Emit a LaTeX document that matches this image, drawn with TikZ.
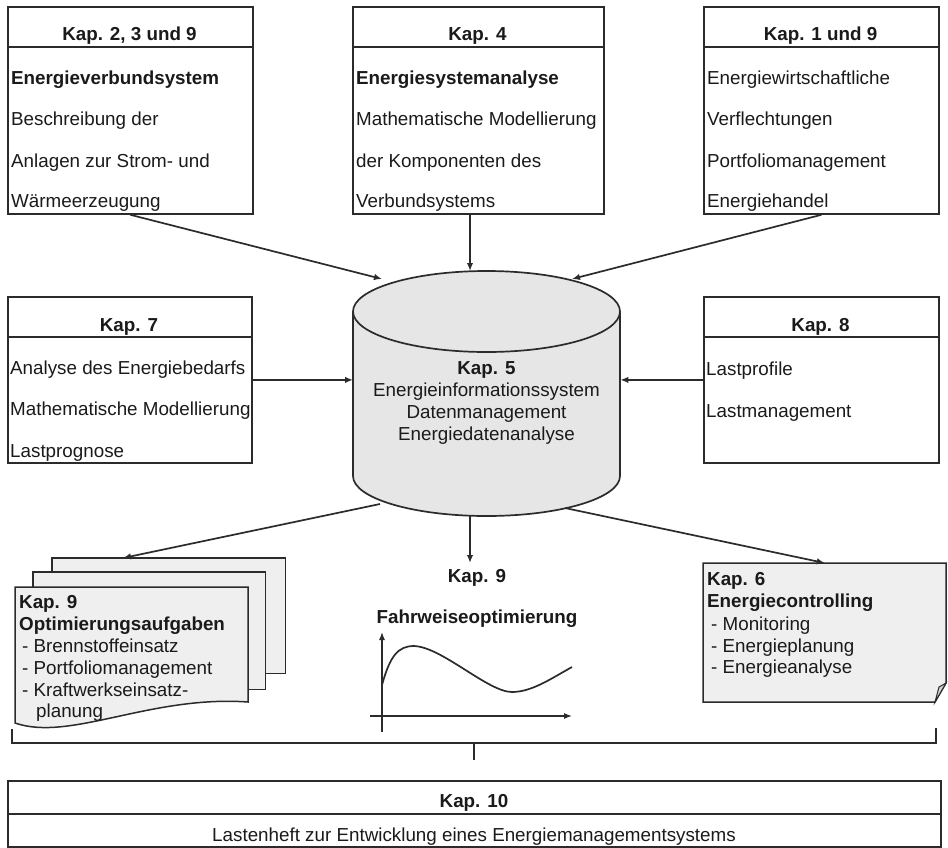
\documentclass[tikz,border=0pt]{standalone}
\usepackage{fontspec}
\setmainfont{Liberation Sans}
\usetikzlibrary{arrows.meta}
\definecolor{linec}{HTML}{2B2B2B}
\definecolor{txtc}{HTML}{1A1A1A}
\definecolor{cylf}{HTML}{E6E6E6}
\definecolor{docf}{HTML}{EFEFEF}
\newcommand\myfs{\fontsize{18.8}{22}\selectfont}
\begin{document}
\begin{tikzpicture}[x=1pt,y=-1pt,
  box/.style={draw=linec, line width=1.8pt, inner sep=0, anchor=north west},
  ghost/.style={inner sep=0, anchor=north west},
  divline/.style={draw=linec, line width=1.3pt},
  txt/.style={anchor=base west, inner sep=0, font=\myfs, text=txtc},
  btxt/.style={txt, font=\myfs\bfseries},
  ctxt/.style={anchor=base, inner sep=0, font=\myfs, text=txtc},
  bctxt/.style={ctxt, font=\myfs\bfseries},
  arr/.style={draw=linec, line width=1.7pt, -{Latex[length=8pt,width=6.5pt]}},
  sheet/.style={draw=linec, line width=1.5pt, fill=docf},
  axisline/.style={draw=linec, line width=1.2pt, -{Latex[length=8pt,width=6pt]}}]
\useasboundingbox (0,0) rectangle (948,847);

% ---------- top boxes ----------
\node[box, minimum width=245pt, minimum height=207pt] (b1) at (7,6) {};
\node[box, minimum width=251pt, minimum height=207pt] (b2) at (352,6) {};
\node[box, minimum width=235pt, minimum height=207pt] (b3) at (703,6) {};
\foreach \b in {b1,b2,b3}{
  \draw[divline] ([yshift=-41pt]\b.north west) -- ([yshift=-41pt]\b.north east);
}
\node[bctxt] (h1) at (129.5,40) {Kap. 2, 3 und 9};
\node[btxt] (t1a) at (11,84) {Energieverbundsystem};
\node[txt] (t1b) at (11,125) {Beschreibung der};
\node[txt] (t1c) at (11,167) {Anlagen zur Strom- und};
\node[txt] (t1d) at (11,207) {Wärmeerzeugung};

\node[bctxt] (h2) at (477.5,40) {Kap. 4};
\node[btxt] (t2a) at (356,84) {Energiesystemanalyse};
\node[txt] (t2b) at (356,125) {Mathematische Modellierung};
\node[txt] (t2c) at (356,167) {der Komponenten des};
\node[txt] (t2d) at (356,207) {Verbundsystems};

\node[bctxt] (h3) at (820.5,40) {Kap. 1 und 9};
\node[txt] (t3a) at (707,84) {Energiewirtschaftliche};
\node[txt] (t3b) at (707,125) {Verflechtungen};
\node[txt] (t3c) at (707,167) {Portfoliomanagement};
\node[txt] (t3d) at (707,207) {Energiehandel};

% ---------- side boxes ----------
\node[box, minimum width=244pt, minimum height=166pt] (b7) at (7,296) {};
\node[box, minimum width=235pt, minimum height=166pt] (b8) at (703,296) {};
\foreach \b in {b7,b8}{
  \draw[divline] ([yshift=-41pt]\b.north west) -- ([yshift=-41pt]\b.north east);
}
\node[bctxt] (h7) at (129,331) {Kap. 7};
\node[txt] (t7a) at (10,374) {Analyse des Energiebedarfs};
\node[txt] (t7b) at (10,415) {Mathematische Modellierung};
\node[txt] (t7c) at (10,457) {Lastprognose};

\node[bctxt] (h8) at (820.5,331) {Kap. 8};
\node[txt] (t8a) at (706,375) {Lastprofile};
\node[txt] (t8b) at (706,417) {Lastmanagement};

% ---------- cylinder ----------
\node[ghost, minimum width=267pt, minimum height=246pt] (db) at (353,271) {};
\fill[cylf] (353,311.5) -- (353,476)
  arc[start angle=180, end angle=360, x radius=133.5pt, y radius=40pt]
  -- (620,311.5)
  arc[start angle=0, end angle=180, x radius=133.5pt, y radius=40.5pt] -- cycle;
\draw[linec, line width=1.7pt] (353,311.5) -- (353,476)
  arc[start angle=180, end angle=360, x radius=133.5pt, y radius=40pt]
  -- (620,311.5);
\draw[linec, line width=1.7pt] (486.5,311.5) ellipse [x radius=133.5pt, y radius=40.5pt];
\node[bctxt] (c5a) at (486.5,374) {Kap. 5};
\node[ctxt] (c5b) at (486.5,396) {Energieinformationssystem};
\node[ctxt] (c5c) at (486.5,418) {Datenmanagement};
\node[ctxt] (c5d) at (486.5,440) {Energiedatenanalyse};

% ---------- arrows into cylinder ----------
\coordinate (c1) at (382,279);
\coordinate (c2) at (470,271);
\coordinate (c3) at (572,279);
\draw[arr] (b1.south) -- (c1);
\draw[arr] (b2.south -| c2) -- (c2);
\draw[arr] (b3.south) -- (c3);
\draw[arr] (b7.east) -- (b7.east -| db.west);
\draw[arr] (b8.west) -- (b8.west -| db.east);

% ---------- left document stack ----------
\node[ghost, minimum width=233pt, minimum height=115pt] (s3) at (52,558) {};
\draw[sheet] (s3.north west) rectangle (s3.south east);
\node[ghost, minimum width=232pt, minimum height=117pt] (s2) at (33,572) {};
\draw[sheet] (s2.north west) rectangle (s2.south east);
\draw[sheet] (15,587) -- (248,587) -- (248,702)
  .. controls (150,695) and (70,742) .. (15,723) -- cycle;
\node[btxt] (l1) at (19,608) {Kap. 9};
\node[btxt] (l2) at (19,630) {Optimierungsaufgaben};
\node[txt] (l3) at (22,652) {- Brennstoffeinsatz};
\node[txt] (l4) at (22,674) {- Portfoliomanagement};
\node[txt] (l5) at (22,696) {- Kraftwerkseinsatz-};
\node[txt] (l6) at (36,717) {planung};

% ---------- middle chart ----------
\node[bctxt] (k9) at (477,582) {Kap. 9};
\node[bctxt] (fw) at (477,623) {Fahrweiseoptimierung};
\coordinate (ya) at (382,732);
\coordinate (yb) at (382,632);
\coordinate (xa) at (370,716);
\coordinate (xb) at (572,716);
\draw[axisline] (ya) -- (yb);
\draw[axisline] (xa) -- (xb);
\draw[linec, line width=1.7pt] (382,685) .. controls (390,656) and (398,646) .. (414,646)
  .. controls (442,647) and (488,692) .. (512,692)
  .. controls (532,692) and (552,678) .. (572,667);

% ---------- right document ----------
\node[ghost, minimum width=243pt, minimum height=139pt] (r6) at (703,563) {};
\draw[sheet] (703,563) -- (946,563) -- (946,683) -- (935,702) -- (703,702) -- cycle;
\draw[draw=linec, line width=1pt, fill=gray!35] (946,683) -- (939,687) -- (935,702) -- cycle;
\node[btxt] (r1) at (707,585) {Kap. 6};
\node[btxt] (r2) at (707,607) {Energiecontrolling};
\node[txt] (r3) at (711,630) {- Monitoring};
\node[txt] (r4) at (711,652) {- Energieplanung};
\node[txt] (r5) at (711,673) {- Energieanalyse};

% ---------- arrows out of cylinder ----------
\coordinate (d1) at (380,504);
\coordinate (d2) at (470,516);
\coordinate (d3) at (565,508);
\coordinate (e1) at (123,558);
\coordinate (e2) at (470,563);
\draw[arr] (d1) -- (e1);
\draw[arr] (d2) -- (e2);
\draw[arr] (d3) -- (r6.north);

% ---------- bracket ----------
\coordinate (kl) at (12,729);
\coordinate (kr) at (936,728);
\coordinate (km) at (474,743);
\coordinate (kt) at (474,760);
\draw[linec, line width=1.8pt] (kl) -- (12,743) -- (936,743) -- (kr);
\draw[linec, line width=1.8pt] (km) -- (kt);

% ---------- bottom box ----------
\node[box, minimum width=933pt, minimum height=66pt] (b10) at (7,780) {};
\draw[divline] ([yshift=-34pt]b10.north west) -- ([yshift=-34pt]b10.north east);
\node[bctxt] (h10) at (474,807) {Kap. 10};
\node[ctxt] (t10) at (474,841) {Lastenheft zur Entwicklung eines Energiemanagementsystems};
\end{tikzpicture}
\end{document}
